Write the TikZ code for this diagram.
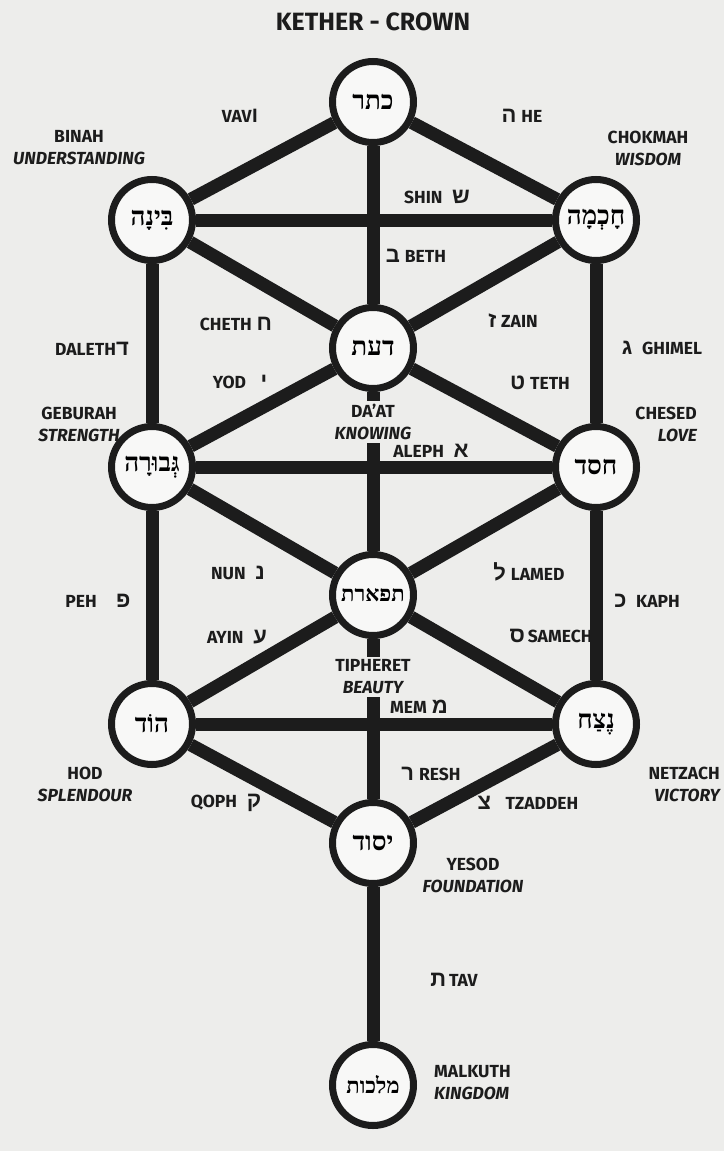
\documentclass[tikz,border=0pt]{standalone}
\usepackage{fontspec}
\setmainfont{Fira Sans}
\newfontfamily\lab{Fira Sans}
\newfontfamily\heb[Script=Hebrew]{Liberation Serif}
\newfontfamily\hebs[Script=Hebrew]{Liberation Sans}
\newcommand\hlet[1]{{\hebs\bfseries\fontsize{22}{22}\selectfont #1}}
\TeXXeTstate=1
\definecolor{bg}{RGB}{237,237,235}
\definecolor{ink}{RGB}{28,28,28}
\definecolor{inner}{RGB}{248,248,247}
\begin{document}
\begin{tikzpicture}[x=1pt,y=-1pt,
  sefira/.style={circle,draw=ink,line width=7pt,fill=inner,minimum size=81pt,inner sep=0pt,
    font=\heb\bfseries\fontsize{26}{26}\selectfont},
  widetext/.style={font=\heb\bfseries\fontsize{22}{22}\selectfont},
  pathline/.style={draw=ink,line width=13pt},
  lbl/.style={text=ink,inner sep=0pt,font=\lab\bfseries\fontsize{17.5}{22}\selectfont},
  nm/.style={text=ink,inner sep=0pt,align=center,font=\lab\bfseries\fontsize{17.5}{22}\selectfont},
  cover/.style={fill=bg,inner sep=3pt}
]
\fill[bg] (0,0) rectangle (724,1151);
\useasboundingbox (0,0) rectangle (724,1151);

% sefirot
\node[sefira] (ket) at (373,102) {\beginR כתר\endR};
\node[sefira] (bin) at (152,220) {\beginR בִּינָה\endR};
\node[sefira] (cho) at (596,220) {\beginR חָכְמָה\endR};
\node[sefira] (daa) at (373,348) {\beginR דעת\endR};
\node[sefira] (geb) at (152,467) {\beginR גְּבוּרָה\endR};
\node[sefira] (che) at (596,467) {\beginR חסד\endR};
\node[sefira,widetext] (tip) at (373,595) {\beginR תפארת\endR};
\node[sefira] (hod) at (152,724) {\beginR הוֹד\endR};
\node[sefira] (net) at (596,724) {\beginR נֶצַח\endR};
\node[sefira] (yes) at (373,843) {\beginR יסוד\endR};
\node[sefira,widetext] (mal) at (373,1085) {\beginR מלכות\endR};

% paths
\begin{scope}[pathline]
\draw (ket) -- (bin);
\draw (ket) -- (cho);
\draw (ket) -- (daa);
\draw (bin) -- (cho);
\draw (bin) -- (daa);
\draw (cho) -- (daa);
\draw (bin) -- (geb);
\draw (cho) -- (che);
\draw (daa) -- (geb);
\draw (daa) -- (che);
\draw (daa) -- (tip);
\draw (geb) -- (che);
\draw (geb) -- (tip);
\draw (che) -- (tip);
\draw (geb) -- (hod);
\draw (che) -- (net);
\draw (tip) -- (hod);
\draw (tip) -- (net);
\draw (tip) -- (yes);
\draw (hod) -- (net);
\draw (hod) -- (yes);
\draw (net) -- (yes);
\draw (yes) -- (mal);
\end{scope}

% title
\node[nm,font=\lab\bfseries\fontsize{25}{28}\selectfont] (title) at (373,22) {KETHER - CROWN};

% sefira names
\node[nm] (nbin) at (79,148) {BINAH\\\itshape UNDERSTANDING};
\node[nm] (ncho) at (648,148) {CHOKMAH\\\itshape WISDOM};
\node[nm] (ngeb) at (79,424) {GEBURAH\\\itshape STRENGTH};
\node[nm,align=right,anchor=east] (nche) at (697,424) {CHESED\\\itshape LOVE};
\node[nm,cover] (ndaa) at (373,422) {DA’AT\\\itshape KNOWING};
\node[nm,cover] (ntip) at (373,677) {TIPHERET\\\itshape BEAUTY};
\node[nm] (nhod) at (85,784) {HOD\\\itshape SPLENDOUR};
\node[nm,align=right,anchor=east] (nnet) at (720,784) {NETZACH\\\itshape VICTORY};
\node[nm] (nyes) at (473,875) {YESOD\\\itshape FOUNDATION};
\node[nm,align=left,anchor=west] (nmal) at (434,1083) {MALKUTH\\\itshape KINGDOM};

% letters on paths
\node[lbl] (lvav) at (240,116) {VAV\hlet{ו}};
\node[lbl] (lhe) at (522,116) {\hlet{ה}\;HE};
\node[lbl] (lshin) at (437,197) {SHIN\;\;\hlet{ש}};
\node[lbl] (lbeth) at (416,256) {\hlet{ב}\;BETH};
\node[lbl] (lcheth) at (236,324) {CHETH\;\hlet{ח}};
\node[lbl] (lzain) at (513,321) {\hlet{ז}\;ZAIN};
\node[lbl] (ldaleth) at (92,349) {DALETH\hlet{ד}};
\node[lbl] (lghimel) at (662,348) {\hlet{ג}\;\;GHIMEL};
\node[lbl] (lyod) at (240,382) {YOD\;\;\;\hlet{י}};
\node[lbl] (lteth) at (540,383) {\hlet{ט}\;TETH};
\node[lbl] (laleph) at (431,451) {ALEPH\;\;\hlet{א}};
\node[lbl] (lnun) at (238,573) {NUN\;\;\hlet{נ}};
\node[lbl] (llamed) at (529,572) {\hlet{ל}\;LAMED};
\node[lbl] (lpeh) at (98,601) {PEH\;\;\;\;\hlet{פ}};
\node[lbl] (lkaph) at (647,601) {\hlet{כ}\;\;KAPH};
\node[lbl] (layin) at (237,637) {AYIN\;\;\hlet{ע}};
\node[lbl] (lsamech) at (551,636) {\hlet{ס}\,SAMECH};
\node[lbl] (lmem) at (419,707) {MEM\;\hlet{מ}};
\node[lbl] (lresh) at (431,774) {\hlet{ר}\;RESH};
\node[lbl] (lqoph) at (226,803) {QOPH\;\;\hlet{ק}};
\node[lbl] (ltzaddeh) at (528,803) {\hlet{צ}\;\;\;TZADDEH};
\node[lbl] (ltav) at (454,980) {\hlet{ת}\,TAV};
\end{tikzpicture}
\end{document}
